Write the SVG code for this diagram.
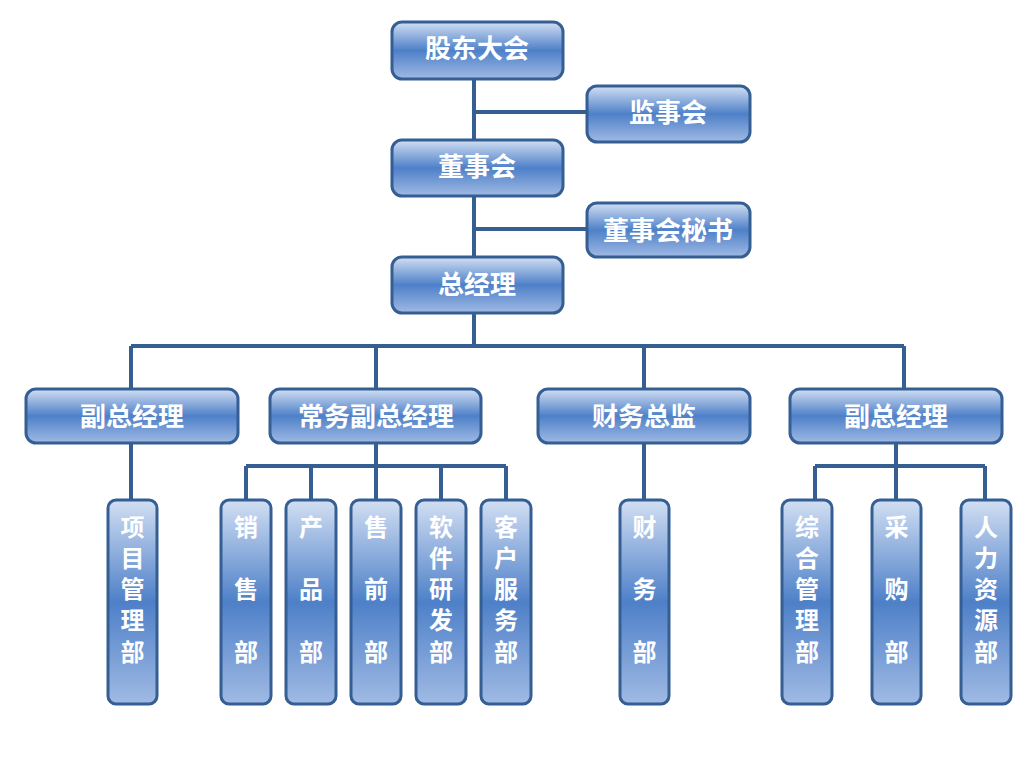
<svg xmlns="http://www.w3.org/2000/svg" width="1031" height="774" viewBox="0 0 1031 774">
<defs>
<linearGradient id="g" x1="0" y1="0" x2="0" y2="1">
<stop offset="0" stop-color="#d2dff3"/>
<stop offset="0.5" stop-color="#4e80c8"/>
<stop offset="1" stop-color="#a0bae4"/>
</linearGradient>
<style>
.b{fill:url(#g);stroke:#355e93;stroke-width:3}
.t{font-family:"Noto Sans CJK SC","Noto Sans",sans-serif;font-weight:bold;font-size:24px;fill:#fff;text-anchor:middle;dominant-baseline:central}
.h{font-size:26px}
.c{stroke:#355e93;stroke-width:4;fill:none}
</style>
</defs>
<rect width="1031" height="774" fill="#fff"/>
<g id="connectors" class="c">
<path d="M474 79V346M474 112H587M474 229H587"/>
<path d="M131 346H904M131 346V389M376 346V389M644 346V389M904 346V389"/>
<path d="M131 443V500M644 443V500"/>
<path d="M376 443V466M246 466H506M246 466V500M311 466V500M376 466V500M441 466V500M506 466V500"/>
<path d="M896 443V466M815 466H985M815 466V500M896 466V500M985 466V500"/>
</g>
<g id="n1"><rect class="b" x="392" y="22" width="171" height="57" rx="10"/><text class="t h" x="477" y="46">股东大会</text></g>
<g id="n2"><rect class="b" x="587" y="86" width="163" height="56" rx="10"/><text class="t h" x="668" y="110">监事会</text></g>
<g id="n3"><rect class="b" x="392" y="140" width="171" height="56" rx="10"/><text class="t h" x="477" y="164">董事会</text></g>
<g id="n4"><rect class="b" x="587" y="203" width="163" height="54" rx="10"/><text class="t h" x="668" y="228">董事会秘书</text></g>
<g id="n5"><rect class="b" x="392" y="257" width="171" height="56" rx="10"/><text class="t h" x="477" y="282">总经理</text></g>
<g id="n6"><rect class="b" x="26" y="389" width="212" height="54" rx="10"/><text class="t h" x="132" y="414">副总经理</text></g>
<g id="n7"><rect class="b" x="270" y="389" width="211" height="54" rx="10"/><text class="t h" x="376" y="414">常务副总经理</text></g>
<g id="n8"><rect class="b" x="538" y="389" width="212" height="54" rx="10"/><text class="t h" x="644" y="414">财务总监</text></g>
<g id="n9"><rect class="b" x="790" y="389" width="212" height="54" rx="10"/><text class="t h" x="896" y="414">副总经理</text></g>
<g id="n10"><rect class="b" x="108" y="500" width="49" height="204" rx="8"/><text class="t" x="132.5" y="525">项<tspan x="132.5" dy="31">目</tspan><tspan x="132.5" dy="31">管</tspan><tspan x="132.5" dy="31">理</tspan><tspan x="132.5" dy="32">部</tspan></text></g>
<g id="n11"><rect class="b" x="221" y="500" width="50" height="204" rx="8"/><text class="t" x="246" y="525">销<tspan x="246" dy="62">售</tspan><tspan x="246" dy="63">部</tspan></text></g>
<g id="n12"><rect class="b" x="286" y="500" width="50" height="204" rx="8"/><text class="t" x="311" y="525">产<tspan x="311" dy="62">品</tspan><tspan x="311" dy="63">部</tspan></text></g>
<g id="n13"><rect class="b" x="351" y="500" width="50" height="204" rx="8"/><text class="t" x="376" y="525">售<tspan x="376" dy="62">前</tspan><tspan x="376" dy="63">部</tspan></text></g>
<g id="n14"><rect class="b" x="416" y="500" width="50" height="204" rx="8"/><text class="t" x="441" y="525">软<tspan x="441" dy="31">件</tspan><tspan x="441" dy="31">研</tspan><tspan x="441" dy="31">发</tspan><tspan x="441" dy="32">部</tspan></text></g>
<g id="n15"><rect class="b" x="481" y="500" width="50" height="204" rx="8"/><text class="t" x="506" y="525">客<tspan x="506" dy="31">户</tspan><tspan x="506" dy="31">服</tspan><tspan x="506" dy="31">务</tspan><tspan x="506" dy="32">部</tspan></text></g>
<g id="n16"><rect class="b" x="620" y="500" width="49" height="204" rx="8"/><text class="t" x="644.5" y="525">财<tspan x="644.5" dy="62">务</tspan><tspan x="644.5" dy="63">部</tspan></text></g>
<g id="n17"><rect class="b" x="782" y="500" width="50" height="204" rx="8"/><text class="t" x="807" y="525">综<tspan x="807" dy="31">合</tspan><tspan x="807" dy="31">管</tspan><tspan x="807" dy="31">理</tspan><tspan x="807" dy="32">部</tspan></text></g>
<g id="n18"><rect class="b" x="872" y="500" width="49" height="204" rx="8"/><text class="t" x="896.5" y="525">采<tspan x="896.5" dy="62">购</tspan><tspan x="896.5" dy="63">部</tspan></text></g>
<g id="n19"><rect class="b" x="961" y="500" width="50" height="204" rx="8"/><text class="t" x="986" y="525">人<tspan x="986" dy="31">力</tspan><tspan x="986" dy="31">资</tspan><tspan x="986" dy="31">源</tspan><tspan x="986" dy="32">部</tspan></text></g>
</svg>
